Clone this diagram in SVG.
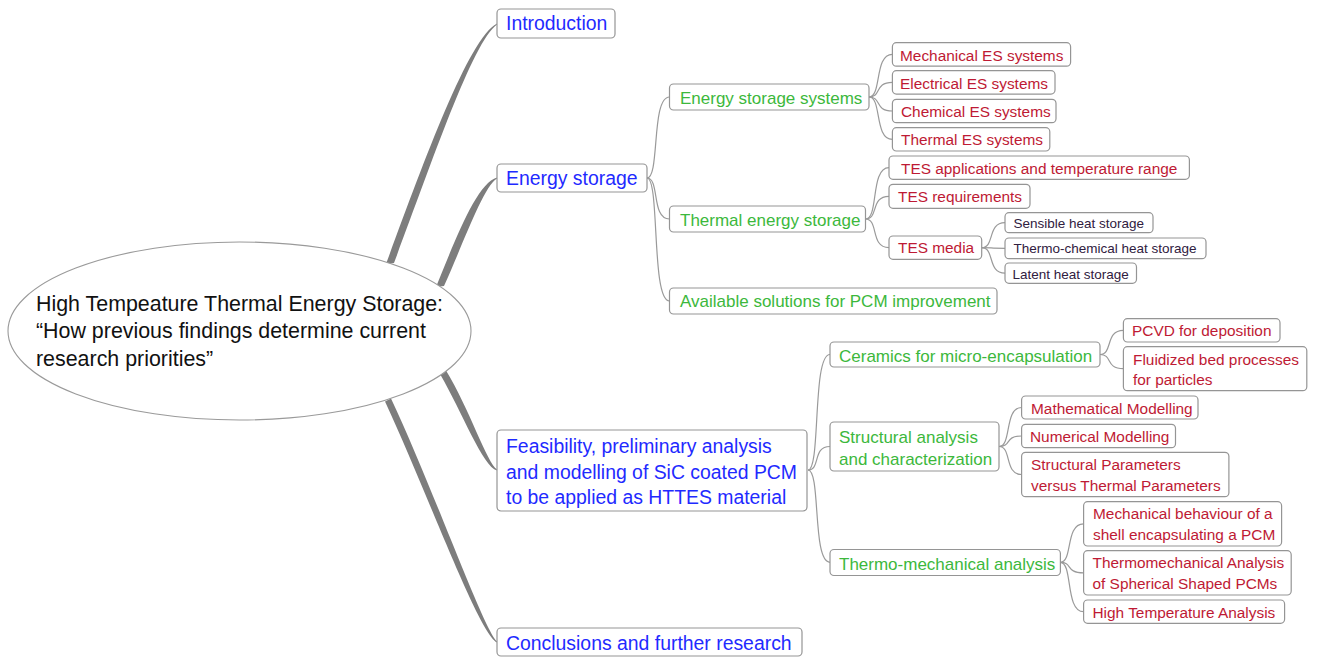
<svg xmlns="http://www.w3.org/2000/svg" width="1320" height="657" viewBox="0 0 1320 657">
<style>
.bx{fill:#fff;stroke:#959595;stroke-width:1.2}
.t{font-family:"Liberation Sans",Arial,sans-serif}
.l1{font-size:19.4px;fill:#1f2aff}
.l2{font-size:17px;fill:#3cb83c}
.l3{font-size:15.4px;fill:#be1a34}
.l4{font-size:13.5px;fill:#302040}
.root{font-size:21.4px;fill:#111}
.c{fill:none;stroke:#9a9a9a;stroke-width:1.2}
.tp{fill:#7d7d7d}
</style>
<rect width="1320" height="657" fill="#fff"/>
<g id="connectors">
<path class="tp" d="M386,264 C421,170 468,38 497,23.5 L497,24.5 C472,42 429,171 394,263 Z"/>
<path class="tp" d="M436,287 C456,238 477,183 497,177.5 L497,178.5 C483,187 464,242 444,286 Z"/>
<path class="tp" d="M440,374 C462,412 483,467 497,470.5 L497,469.5 C487,463 469,408 446,370.5 Z"/>
<path class="tp" d="M385,401.5 C427,492 478,632 497,642.5 L497,641.5 C483,628 433,488 391,398.5 Z"/>
<path class="c" d="M647,178 C660,178 651,97 669.5,97"/>
<path class="c" d="M647,178 C660,178 651,219 669.5,219"/>
<path class="c" d="M647,178 C660,178 651,301 669.5,301"/>
<path class="c" d="M869,97 C882,97 874,54.3 892.4,54.3"/>
<path class="c" d="M869,97 C882,97 874,82.3 892.4,82.3"/>
<path class="c" d="M869,97 C882,97 874,111 892.4,111"/>
<path class="c" d="M869,97 C882,97 874,139.3 892.4,139.3"/>
<path class="c" d="M865.5,219 C879,219 870,167.7 889,167.7"/>
<path class="c" d="M865.5,219 C879,219 870,196.3 889,196.3"/>
<path class="c" d="M865.5,219 C879,219 870,247.7 889,247.7"/>
<path class="c" d="M981.7,247.7 C995,247.7 987,222.7 1005,222.7"/>
<path class="c" d="M981.7,247.7 C995,247.7 987,248.3 1005,248.3"/>
<path class="c" d="M981.7,247.7 C995,247.7 987,273.2 1005,273.2"/>
<path class="c" d="M808,470 C821,470 812,354.5 830,354.5"/>
<path class="c" d="M808,470 C821,470 812,446.5 830,446.5"/>
<path class="c" d="M808,470 C821,470 812,562.3 830,562.3"/>
<path class="c" d="M1100,354.5 C1113,354.5 1105,330.3 1123.4,330.3"/>
<path class="c" d="M1100,354.5 C1113,354.5 1105,368.7 1123.4,368.7"/>
<path class="c" d="M999,446.5 C1012,446.5 1004,407.5 1021.6,407.5"/>
<path class="c" d="M999,446.5 C1012,446.5 1004,436 1021.6,436"/>
<path class="c" d="M999,446.5 C1012,446.5 1004,474.5 1021.6,474.5"/>
<path class="c" d="M1060.4,562.3 C1073,562.3 1065,523.8 1083.6,523.8"/>
<path class="c" d="M1060.4,562.3 C1073,562.3 1065,572.8 1083.6,572.8"/>
<path class="c" d="M1060.4,562.3 C1073,562.3 1065,611.7 1083.6,611.7"/>
</g>
<g id="root">
<ellipse cx="239.5" cy="331" rx="231.5" ry="89" fill="#fff" stroke="#9a9a9a" stroke-width="1.1"/>
<text class="t root" x="36" y="311">High Tempeature Thermal Energy Storage:</text>
<text class="t root" x="36" y="338">“How previous findings determine current</text>
<text class="t root" x="36" y="366">research priorities”</text>
</g>
<g id="n-intro"><rect class="bx" x="497" y="9" width="118" height="29" rx="4"/><text class="t l1" x="506" y="30">Introduction</text></g>
<g id="n-es"><rect class="bx" x="497" y="164" width="150" height="28" rx="4"/><text class="t l1" x="506" y="185">Energy storage</text></g>
<g id="n-feas"><rect class="bx" x="497" y="430" width="310" height="81" rx="4"/>
<text class="t l1" x="506" y="453">Feasibility, preliminary analysis</text>
<text class="t l1" x="506" y="479">and modelling of SiC coated PCM</text>
<text class="t l1" x="506" y="504">to be applied as HTTES material</text></g>
<g id="n-concl"><rect class="bx" x="497" y="628" width="305" height="28" rx="4"/><text class="t l1" x="506" y="650">Conclusions and further research</text></g>
<g id="n-ess"><rect class="bx" x="669.5" y="84" width="199.5" height="26" rx="4"/><text class="t l2" x="680" y="104">Energy storage systems</text></g>
<g id="n-tes"><rect class="bx" x="669.5" y="206" width="196" height="26" rx="4"/><text class="t l2" x="680" y="226">Thermal energy storage</text></g>
<g id="n-avail"><rect class="bx" x="669.5" y="288" width="327.5" height="26" rx="4"/><text class="t l2" x="680" y="307">Available solutions for PCM improvement</text></g>
<g id="n-ceram"><rect class="bx" x="830" y="342" width="270" height="25" rx="4"/><text class="t l2" x="839" y="362">Ceramics for micro-encapsulation</text></g>
<g id="n-struct"><rect class="bx" x="830" y="422" width="169" height="49" rx="4"/><text class="t l2" x="839" y="443">Structural analysis</text><text class="t l2" x="839" y="465">and characterization</text></g>
<g id="n-thermo"><rect class="bx" x="830" y="549.5" width="230.4" height="26" rx="4"/><text class="t l2" x="839" y="569.5">Thermo-mechanical analysis</text></g>
<g id="n-mech"><rect class="bx" x="892.4" y="42.7" width="178.2" height="23.5" rx="4"/><text class="t l3" x="900" y="60.7">Mechanical ES systems</text></g>
<g id="n-elec"><rect class="bx" x="892.4" y="70.7" width="162.6" height="23.4" rx="4"/><text class="t l3" x="900" y="88.7">Electrical ES systems</text></g>
<g id="n-chem"><rect class="bx" x="892.4" y="99.3" width="163.6" height="23.4" rx="4"/><text class="t l3" x="901" y="117">Chemical ES systems</text></g>
<g id="n-thes"><rect class="bx" x="892.4" y="127.7" width="157.4" height="23.3" rx="4"/><text class="t l3" x="901" y="145">Thermal ES systems</text></g>
<g id="n-tesapp"><rect class="bx" x="889" y="156" width="300.4" height="23.3" rx="4"/><text class="t l3" x="901" y="174">TES applications and temperature range</text></g>
<g id="n-tesreq"><rect class="bx" x="889" y="184.3" width="141" height="24" rx="4"/><text class="t l3" x="898" y="202">TES requirements</text></g>
<g id="n-tesmed"><rect class="bx" x="889" y="236" width="92.7" height="23.3" rx="4"/><text class="t l3" x="898" y="253">TES media</text></g>
<g id="n-sens"><rect class="bx" x="1005" y="212.7" width="148" height="20" rx="4"/><text class="t l4" x="1013.5" y="228">Sensible heat storage</text></g>
<g id="n-tchem"><rect class="bx" x="1005" y="238" width="201" height="20.7" rx="4"/><text class="t l4" x="1013.5" y="253">Thermo-chemical heat storage</text></g>
<g id="n-latent"><rect class="bx" x="1005" y="263" width="131.5" height="20.3" rx="4"/><text class="t l4" x="1012.5" y="278.5">Latent heat storage</text></g>
<g id="n-pcvd"><rect class="bx" x="1123.4" y="318.7" width="156.6" height="23.3" rx="4"/><text class="t l3" x="1132" y="336">PCVD for deposition</text></g>
<g id="n-fluid"><rect class="bx" x="1123.4" y="346.7" width="183.4" height="44" rx="4"/><text class="t l3" x="1133" y="365">Fluidized bed processes</text><text class="t l3" x="1133" y="385">for particles</text></g>
<g id="n-math"><rect class="bx" x="1021.6" y="396" width="176.4" height="23" rx="4"/><text class="t l3" x="1031" y="414">Mathematical Modelling</text></g>
<g id="n-num"><rect class="bx" x="1021.6" y="424.3" width="153.9" height="23.4" rx="4"/><text class="t l3" x="1030" y="442.3">Numerical Modelling</text></g>
<g id="n-sparams"><rect class="bx" x="1021.6" y="452.3" width="207.3" height="44.4" rx="4"/><text class="t l3" x="1031" y="470">Structural Parameters</text><text class="t l3" x="1031" y="490.7">versus Thermal Parameters</text></g>
<g id="n-mechb"><rect class="bx" x="1083.6" y="501.7" width="198" height="44.3" rx="4"/><text class="t l3" x="1093" y="519.3">Mechanical behaviour of a</text><text class="t l3" x="1093" y="540">shell encapsulating a PCM</text></g>
<g id="n-tma"><rect class="bx" x="1083.6" y="550.7" width="207.6" height="44.3" rx="4"/><text class="t l3" x="1092.5" y="568.3">Thermomechanical Analysis</text><text class="t l3" x="1092.5" y="589.3">of Spherical Shaped PCMs</text></g>
<g id="n-hta"><rect class="bx" x="1083.6" y="600" width="201" height="23.3" rx="4"/><text class="t l3" x="1092.5" y="617.7">High Temperature Analysis</text></g>
</svg>
